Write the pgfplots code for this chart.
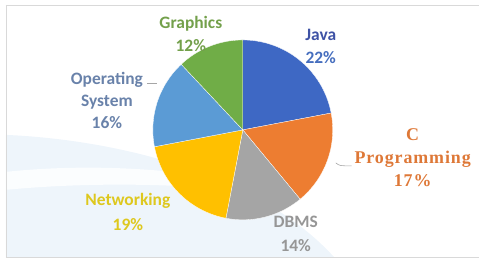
\documentclass[border=0pt]{standalone}
\usepackage{pgfplots}
\pgfplotsset{compat=1.18}
\usepackage{pgfplotstable}
\usepackage{fontspec}
\setmainfont{Carlito}
\newfontfamily\serifc{Liberation Serif}[LetterSpace=5]
\definecolor{cJava}{RGB}{62,104,196}
\definecolor{cC}{RGB}{237,125,49}
\definecolor{cDB}{RGB}{165,165,165}
\definecolor{cNet}{RGB}{255,192,0}
\definecolor{cOS}{RGB}{91,155,213}
\definecolor{cGr}{RGB}{112,173,71}
\definecolor{tJava}{RGB}{62,82,165}
\definecolor{tJava2}{RGB}{70,110,190}
\definecolor{tC}{RGB}{222,120,55}
\definecolor{tDB}{RGB}{150,150,150}
\definecolor{tNet}{RGB}{222,200,30}
\definecolor{tOS}{RGB}{105,130,170}
\definecolor{tGr}{RGB}{115,160,75}
\definecolor{bgblue}{RGB}{238,245,251}
\pgfplotstableread{
name value
Java 22
CProgramming 17
DBMS 14
Networking 19
OS 16
Graphics 12
}\piedata
\begin{document}
\begin{tikzpicture}
\pgfplotstablegetelem{0}{value}\of\piedata\pgfmathsetmacro\vA{\pgfplotsretval}
\pgfplotstablegetelem{1}{value}\of\piedata\pgfmathsetmacro\vB{\pgfplotsretval}
\pgfplotstablegetelem{2}{value}\of\piedata\pgfmathsetmacro\vC{\pgfplotsretval}
\pgfplotstablegetelem{3}{value}\of\piedata\pgfmathsetmacro\vD{\pgfplotsretval}
\pgfplotstablegetelem{4}{value}\of\piedata\pgfmathsetmacro\vE{\pgfplotsretval}
\pgfplotstablegetelem{5}{value}\of\piedata\pgfmathsetmacro\vF{\pgfplotsretval}
\pgfmathsetmacro\tA{90}
\pgfmathsetmacro\tB{\tA-3.6*\vA}
\pgfmathsetmacro\tC{\tB-3.6*\vB}
\pgfmathsetmacro\tD{\tC-3.6*\vC}
\pgfmathsetmacro\tE{\tD-3.6*\vD}
\pgfmathsetmacro\tF{\tE-3.6*\vE}
\pgfmathsetmacro\tG{\tF-3.6*\vF}
\begin{axis}[at={(0,0)}, anchor=south west, width=479bp, height=262bp,
  scale only axis, xmin=0, xmax=479, ymin=0, ymax=262, y dir=reverse,
  hide axis, clip=false]
\path (axis cs:0,0) rectangle (axis cs:479,262);
\fill[bgblue] (axis cs:6,135) .. controls (axis cs:120,140) and (axis cs:260,175) .. (axis cs:335,258) -- (axis cs:6,258) -- cycle;
\fill[white, opacity=0.8] (axis cs:6,172) .. controls (axis cs:120,160) and (axis cs:240,175) .. (axis cs:300,200) .. controls (axis cs:230,185) and (axis cs:110,180) .. (axis cs:6,190) -- cycle;
\draw[gray!30, line width=0.8pt] (axis cs:6,5) -- (axis cs:479,5);
\draw[gray!30, line width=0.8pt] (axis cs:6,5) -- (axis cs:6,258) -- (axis cs:479,258);
\addplot[fill=cJava, draw=white, line width=0.3pt, domain=\tB:\tA, samples=40] ({243+90*cos(x)},{130-90*sin(x)}) -- (axis cs:243,130) -- cycle;
\addplot[fill=cC, draw=white, line width=0.3pt, domain=\tC:\tB, samples=40] ({243+90*cos(x)},{130-90*sin(x)}) -- (axis cs:243,130) -- cycle;
\addplot[fill=cDB, draw=white, line width=0.3pt, domain=\tD:\tC, samples=40] ({243+90*cos(x)},{130-90*sin(x)}) -- (axis cs:243,130) -- cycle;
\addplot[fill=cNet, draw=white, line width=0.3pt, domain=\tE:\tD, samples=40] ({243+90*cos(x)},{130-90*sin(x)}) -- (axis cs:243,130) -- cycle;
\addplot[fill=cOS, draw=white, line width=0.3pt, domain=\tF:\tE, samples=40] ({243+90*cos(x)},{130-90*sin(x)}) -- (axis cs:243,130) -- cycle;
\addplot[fill=cGr, draw=white, line width=0.3pt, domain=\tG:\tF, samples=40] ({243+90*cos(x)},{130-90*sin(x)}) -- (axis cs:243,130) -- cycle;
\draw[gray!70, line width=0.6pt] (axis cs:147,83) -- (axis cs:157,83);
\draw[gray!70, line width=0.6pt] (axis cs:336,163) .. controls (axis cs:340,166) .. (axis cs:352,166);
\node[text=tGr, font=\bfseries\fontsize{17.5}{24}\selectfont, align=center] at (axis cs:191,34) {Graphics\\12\%};
\node[font=\bfseries\fontsize{17.5}{23}\selectfont, align=center] at (axis cs:321,46.5) {\textcolor{tJava}{Java}\\\textcolor{tJava2}{22\%}};
\node[text=tOS, font=\bfseries\fontsize{17.5}{22.5}\selectfont, align=center] at (axis cs:107,100.5) {Operating\\System\\16\%};
\node[text=tC, font=\serifc\bfseries\fontsize{18}{23}\selectfont, align=center] at (axis cs:413,158) {C\\Programming\\17\%};
\node[text=tNet, font=\bfseries\fontsize{17.5}{25}\selectfont, align=center] at (axis cs:128,212.5) {Networking\\19\%};
\node[text=tDB, font=\bfseries\fontsize{17.5}{24}\selectfont, align=center] at (axis cs:296,234) {DBMS\\14\%};
\end{axis}
\end{tikzpicture}
\end{document}
